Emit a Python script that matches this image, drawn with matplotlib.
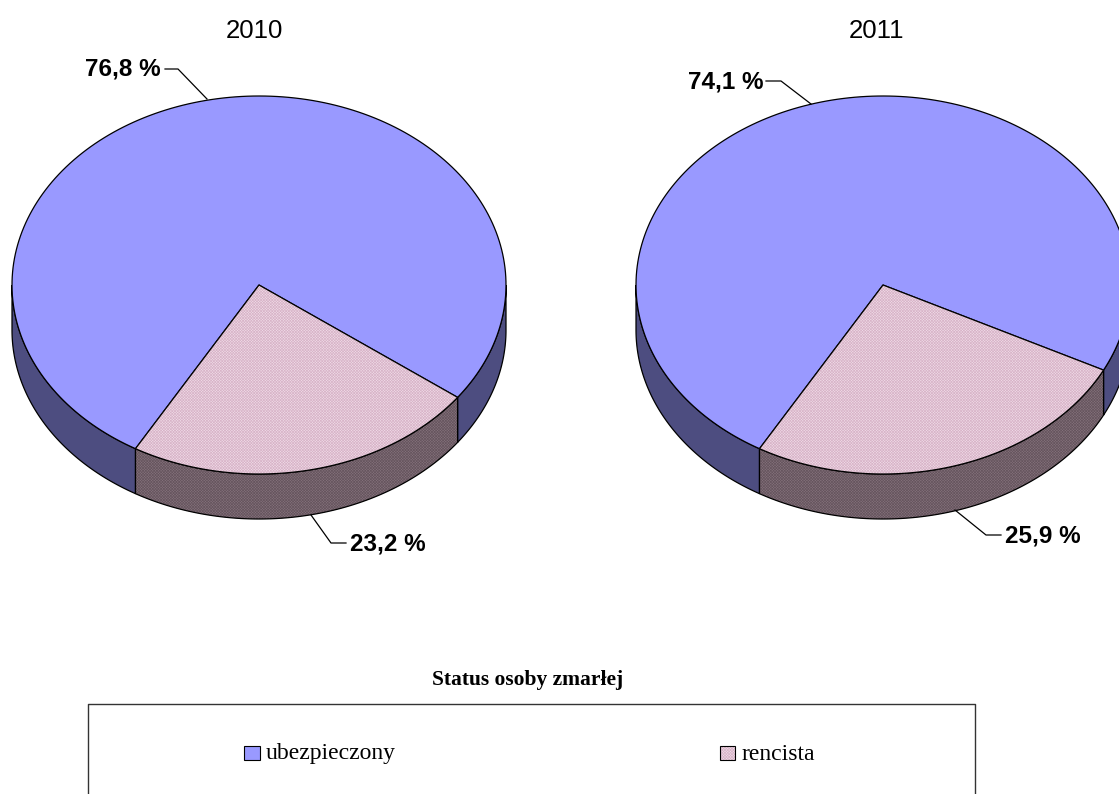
import numpy as np
from matplotlib import pyplot as plt
from matplotlib.patches import Polygon, Rectangle

plt.rcParams['font.family'] = ['Liberation Sans', 'DejaVu Sans']
plt.rcParams['hatch.linewidth'] = 0.5

years = ['2010', '2011']
ubezpieczony = [76.8, 74.1]
rencista = [23.2, 25.9]
labels_ub = ['76,8 %', '74,1 %']
labels_re = ['23,2 %', '25,9 %']
legend_names = ['ubezpieczony', 'rencista']
legend_title = 'Status osoby zmarłej'

BLUE = '#9999ff'
BLUE_SIDE = '#4d4d80'
PINK = '#f0dce8'
PINK_HATCH = '#d8b4c8'
PINK_SIDE = '#85727c'
PINK_SIDE_HATCH = '#66555e'

RX, RY, DEPTH, CY = 247, 189, 45, 285
centers = [259, 883]
START = 120  # pink slice ends here (degrees, y pointing down)


def arc(cx, t0, t1, dy=0):
    t = np.radians(np.linspace(t0, t1, 200))
    return np.column_stack([cx + RX * np.cos(t), CY + dy + RY * np.sin(t)])


def shape(ax, pts, face, hatch_col=None):
    if hatch_col:
        # hatch takes the edge colour, so the black outline is a second patch
        ax.add_patch(Polygon(pts, closed=True, facecolor=face, edgecolor=hatch_col,
                             hatch='xxxxxxxxxxxx', linewidth=0))
        face = 'none'
    ax.add_patch(Polygon(pts, closed=True, facecolor=face, edgecolor='black', linewidth=0.9))


def side(ax, cx, t0, t1, face, hatch_col=None):
    shape(ax, np.vstack([arc(cx, t0, t1), arc(cx, t1, t0, DEPTH)]), face, hatch_col)


def top(ax, cx, t0, t1, face, hatch_col=None):
    shape(ax, np.vstack([[[cx, CY]], arc(cx, t0, t1)]), face, hatch_col)


fig = plt.figure(figsize=(11.19, 7.94), dpi=100)
ax = fig.add_axes([0, 0, 1, 1])
ax.set_xlim(0, 1119)
ax.set_ylim(794, 0)
ax.axis('off')

for cx, ub, re in zip(centers, ubezpieczony, rencista):
    a = START - re * 3.6
    side(ax, cx, 0, a, BLUE_SIDE)
    side(ax, cx, START, 180, BLUE_SIDE)
    side(ax, cx, a, START, PINK_SIDE, PINK_SIDE_HATCH)
    top(ax, cx, START, START + ub * 3.6, BLUE)
    top(ax, cx, a, START, PINK, PINK_HATCH)

title_x = [254, 877]
for x, y in zip(title_x, years):
    ax.text(x, 31, y, ha='center', va='center', fontsize=18.5, color='black')

ax.text(161, 69, labels_ub[0], ha='right', va='center', fontsize=17.5, fontweight='bold')
ax.text(764, 82, labels_ub[1], ha='right', va='center', fontsize=17.5, fontweight='bold')
ax.text(350, 544, labels_re[0], ha='left', va='center', fontsize=17.5, fontweight='bold')
ax.text(1005, 536, labels_re[1], ha='left', va='center', fontsize=17.5, fontweight='bold')

# leader lines
lw = 0.9
ax.plot([165, 178, 207], [69, 69, 99], color='black', lw=lw)
ax.plot([766, 781, 811], [81, 81, 104], color='black', lw=lw)
ax.plot([311, 331, 346], [515, 543, 543], color='black', lw=lw)
ax.plot([955, 986, 1001], [510, 535, 535], color='black', lw=lw)

# legend, cut off by the bottom of the picture
ax.text(528, 680, legend_title, ha='center', va='center', fontsize=15.5,
        fontweight='bold', family='Liberation Serif')
ax.plot([88, 88, 975, 975], [794, 704, 704, 794], color='#333333', lw=1.0)
ax.add_patch(Rectangle((244, 746), 16, 14, facecolor=BLUE, edgecolor='black', linewidth=0.8))
ax.add_patch(Rectangle((720, 746), 15, 14, facecolor=PINK, edgecolor=PINK_HATCH, linewidth=0,
                       hatch='xxxxxxxxxxxx'))
ax.add_patch(Rectangle((720, 746), 15, 14, facecolor='none', edgecolor='black', linewidth=0.8))
ax.text(266, 754, legend_names[0], ha='left', va='center', fontsize=17,
        family='Liberation Serif')
ax.text(741, 754, legend_names[1], ha='left', va='center', fontsize=17,
        family='Liberation Serif')

plt.savefig('out.png', dpi=100)
